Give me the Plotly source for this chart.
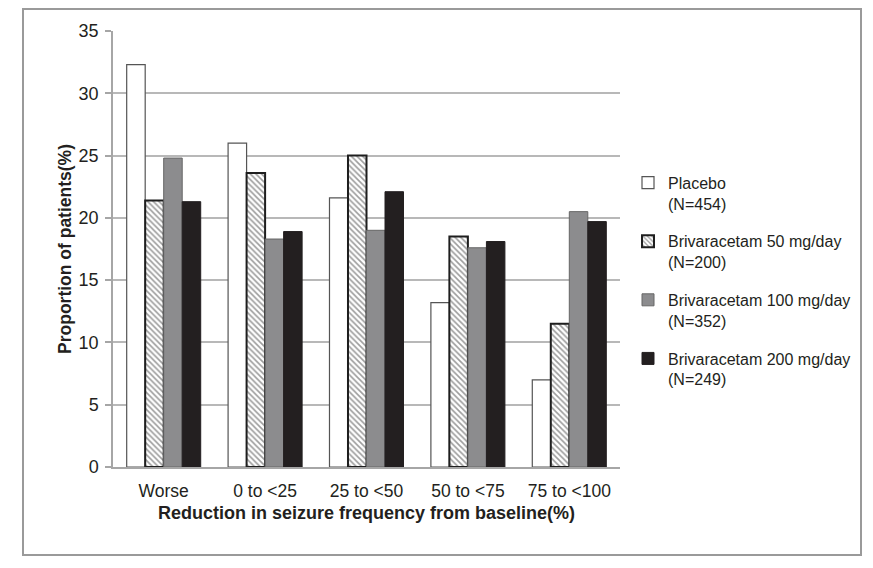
import plotly.graph_objects as go

categories = ["Worse", "0 to <25", "25 to <50", "50 to <75", "75 to <100"]
series_names = [
    "Placebo<br>(N=454)",
    "Brivaracetam 50 mg/day<br>(N=200)",
    "Brivaracetam 100 mg/day<br>(N=352)",
    "Brivaracetam 200 mg/day<br>(N=249)",
]
placebo = [32.3, 26.0, 21.6, 13.2, 7.0]
briv50 = [21.4, 23.6, 25.0, 18.5, 11.5]
briv100 = [24.8, 18.3, 19.0, 17.6, 20.5]
briv200 = [21.3, 18.9, 22.1, 18.1, 19.7]
y_ticks = [0, 5, 10, 15, 20, 25, 30, 35]

FONT = "Liberation Sans, Arial, sans-serif"

styles = [
    dict(color="white", line=dict(color="#555555", width=1.2)),
    dict(color="white", line=dict(color="#1e1e1e", width=2),
         pattern=dict(shape="\\", fgcolor="#3a3a3a", bgcolor="white", size=4, solidity=0.4)),
    dict(color="#8c8c8e", line=dict(color="#666666", width=1)),
    dict(color="#231f20", line=dict(color="#231f20", width=1)),
]

fig = go.Figure()
for i, (name, vals) in enumerate(zip(series_names, [placebo, briv50, briv100, briv200])):
    fig.add_trace(go.Bar(x=categories, y=vals, name=name, marker=styles[i],
                         legendgroup=f"g{i}"))

L, T, W, H = 105, 23, 507, 436
fig.update_layout(
    width=873, height=568,
    margin=dict(l=L, r=873 - L - W, t=T, b=568 - T - H),
    paper_bgcolor="white", plot_bgcolor="white",
    barmode="group", bargap=0.27, bargroupgap=0,
    font=dict(family=FONT, size=16, color="#231f20"),
    showlegend=True,
    legend=dict(x=(620 - L) / W, y=0.691, xanchor="left", yanchor="top",
                font=dict(family=FONT, size=16, color="#231f20"),
                valign="top", tracegroupgap=14, bgcolor="rgba(0,0,0,0)",
                itemwidth=30),
    xaxis=dict(showline=True, linecolor="#a6a6a6", linewidth=1.5,
               tickfont=dict(size=17.5), ticks="", ticklabelstandoff=7,
               title=dict(text="<b>Reduction in seizure frequency from baseline(%)</b>",
                          font=dict(size=18), standoff=7)),
    yaxis=dict(range=[0, 35], tickvals=y_ticks, showline=True, linecolor="#a6a6a6",
               linewidth=1.5, showgrid=True, gridcolor="#b8b8b8", gridwidth=1.5,
               ticks="outside", ticklen=6, tickcolor="#a6a6a6", tickwidth=1.5,
               tickfont=dict(size=18), ticklabelstandoff=3, zeroline=False,
               title=dict(text="<b>Proportion of patients(%)</b>", font=dict(size=17.5),
                          standoff=2)),
)

fig.add_shape(type="rect", xref="paper", yref="paper",
              x0=(23 - 113) / W, x1=(861 - 113) / W,
              y0=(467 - 555) / H, y1=(467 - 9) / H,
              line=dict(color="#9a9a9a", width=2), fillcolor="rgba(0,0,0,0)", layer="below")

fig.write_html("out.html")
